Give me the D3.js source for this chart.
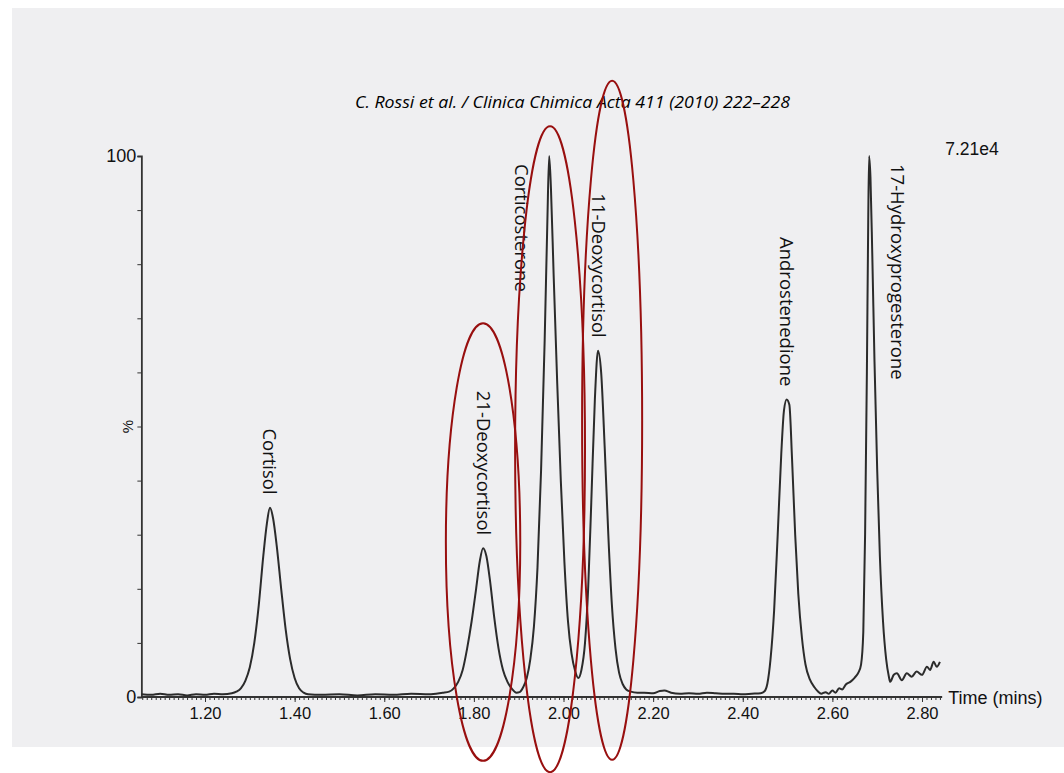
<!DOCTYPE html>
<meta charset='utf-8'>
<html>
  <style>
    body { margin: 0; background: #fff; }
    .tick text, .lbl { font-family: "Liberation Sans", Arial, sans-serif; fill: #111; }
    .peak { font-family: "Open Sans", "Noto Sans", sans-serif; font-size: 18.5px; fill: #111; }
    .title { font-family: "Open Sans", sans-serif; font-style: italic; font-size: 16px; fill: #000; }
    .axis path, .axis line { stroke: #333; }
  </style>
  <head>
    <script src="https://cdn.jsdelivr.net/npm/d3@7"></script>
  </head>
  <body>
    <div id="chart"></div>
    <script type="text/javascript">
      // trace: retention time (min) and relative intensity (%)
      var traceTime = [1.058,1.08,1.10,1.12,1.14,1.16,1.18,1.20,1.22,1.24,1.26,1.27,1.28,1.29,1.30,1.31,1.32,1.33,1.338,1.345,1.352,1.36,1.37,1.38,1.39,1.40,1.41,1.42,1.43,1.46,1.50,1.54,1.58,1.62,1.66,1.70,1.73,1.745,1.755,1.765,1.775,1.785,1.795,1.805,1.813,1.8205,1.828,1.836,1.845,1.855,1.865,1.875,1.885,1.895,1.902,1.91,1.918,1.926,1.934,1.942,1.95,1.958,1.964,1.968,1.972,1.978,1.986,1.994,2.002,2.01,2.018,2.026,2.033,2.04,2.048,2.055,2.062,2.07,2.077,2.084,2.092,2.10,2.108,2.116,2.124,2.132,2.14,2.15,2.165,2.18,2.20,2.215,2.225,2.24,2.26,2.28,2.30,2.32,2.34,2.36,2.38,2.40,2.42,2.44,2.448,2.455,2.462,2.47,2.478,2.486,2.492,2.498,2.504,2.51,2.517,2.524,2.532,2.54,2.55,2.56,2.568,2.575,2.585,2.592,2.60,2.607,2.615,2.622,2.63,2.64,2.65,2.658,2.664,2.669,2.673,2.677,2.68,2.682,2.685,2.689,2.694,2.70,2.706,2.713,2.72,2.726,2.729,2.737,2.744,2.755,2.766,2.777,2.788,2.80,2.811,2.818,2.826,2.833,2.84];
      var traceIntensity = [0.5,0.4,0.6,0.4,0.5,0.3,0.5,0.4,0.6,0.5,0.7,1.0,1.6,3.0,5.5,10,17,26,32,35,33,28,20,12.5,7,3.5,1.6,0.8,0.5,0.4,0.5,0.3,0.5,0.4,0.6,0.5,0.8,1.0,1.6,2.8,5,9,14,20,25,27.5,26,21.5,15,9,5,2.8,1.5,0.8,0.9,1.8,3.5,7,13,24,42,66,88,100,94,78,58,40,25,14,8,4.8,3.5,5,10,20,36,55,64,60,46,30,17,9,4.5,2.4,1.4,1.0,0.8,0.8,0.7,1.1,1.2,0.8,0.6,0.7,0.6,0.8,0.7,0.6,0.6,0.5,0.6,0.7,1.0,2.5,7,16,30,45,53,55,54,44,30,19,11,6,3.2,1.8,1.0,0.6,0.9,0.6,1.2,0.8,1.6,1.4,2.3,2.8,3.6,4.5,6,12,30,60,88,100,96,82,62,42,26,14,7,3.8,2.8,4.1,4.4,3.1,4.4,3.75,4.7,4.1,5.6,5.0,6.5,5.6,6.5];

      var peakNames = ["Cortisol","21-Deoxycortisol","Corticosterone","11-Deoxycortisol","Androstenedione","17-Hydroxyprogesterone"];
      var peakTimes = [1.345, 1.8205, 1.968, 2.077, 2.497, 2.682];
      var peakHeights = [35, 27.5, 100, 64, 55, 100];

      var xTickValues = [1.20,1.40,1.60,1.80,2.00,2.20,2.40,2.60,2.80];
      var yTickValues = [0,10,20,30,40,50,60,70,80,90,100];

      // red circles drawn over the scan (time centre, half width in min, top/bottom in %)
      var ringTimes = [1.8205, 1.970, 2.1085];
      var ringHalfWidths = [0.083, 0.078, 0.067];
      var ringTops = [69.1, 105.5, 113.9];
      var ringBottoms = [-11.8, -13.9, -11.6];

      var titleText = "C. Rossi et al. / Clinica Chimica Acta 411 (2010) 222\u2013228",
        scaleText = "7.21e4",
        xTitle = "Time (mins)",
        yTitle = "%";

      var width = 1064, height = 773;

      var x = d3.scaleLinear().domain([1.20, 2.80]).range([205, 922]),
        y = d3.scaleLinear().domain([0, 100]).range([697, 156]);

      var svg = d3.select("#chart").append("svg")
        .attr("width", width)
        .attr("height", height);

      // scanned page area
      svg.append("rect")
        .attr("x", 12).attr("y", 8)
        .attr("width", width - 12).attr("height", 739)
        .attr("fill", "#efeff1");

      svg.append("text")
        .attr("class", "title")
        .attr("x", 355).attr("y", 108)
        .attr("textLength", 435)
        .attr("lengthAdjust", "spacingAndGlyphs")
        .text(titleText);

      // x axis: minor ticks every 0.01 and labelled ticks
      var minor = d3.range(106, 285).map(function(d){ return d / 100; });
      svg.append("g")
        .attr("class", "axis")
        .attr("transform", "translate(0," + y(0) + ")")
        .call(d3.axisBottom(x).tickValues(minor).tickSize(3).tickFormat(""))
        .select(".domain").remove();

      var xAxis = svg.append("g")
        .attr("class", "axis")
        .attr("transform", "translate(0," + y(0) + ")")
        .call(d3.axisBottom(x).tickValues(xTickValues).tickSize(5).tickPadding(5)
          .tickFormat(d3.format(".2f")));
      xAxis.select(".domain").remove();
      xAxis.selectAll("text").style("font-size", "16.5px");

      svg.append("line")
        .attr("x1", x(1.058)).attr("x2", x(2.845))
        .attr("y1", y(0)).attr("y2", y(0))
        .attr("stroke", "#333").attr("stroke-width", 1.8);

      svg.append("text")
        .attr("class", "lbl")
        .attr("x", x(2.845) + 6).attr("y", y(0) + 7)
        .style("font-size", "18px")
        .text(xTitle);

      // y axis
      var yAxis = svg.append("g")
        .attr("class", "axis")
        .attr("transform", "translate(" + x(1.058) + ",0)")
        .call(d3.axisLeft(y).tickValues(yTickValues).tickSize(4).tickPadding(1)
          .tickFormat(function(d){ return (d === 0 || d === 100) ? d : ""; }));
      yAxis.select(".domain").attr("stroke-width", 1.8);
      yAxis.selectAll("text").style("font-size", "18px");

      svg.append("text")
        .attr("class", "lbl")
        .attr("transform", "translate(" + (x(1.058) - 14) + "," + y(50) + ") rotate(-90)")
        .attr("text-anchor", "middle")
        .attr("dominant-baseline", "central")
        .style("font-size", "15px")
        .text(yTitle);

      svg.append("text")
        .attr("class", "lbl")
        .attr("x", x(2.845) + 3).attr("y", y(100) - 1)
        .style("font-size", "17.5px")
        .text(scaleText);

      // chromatogram trace
      var trace = traceTime.map(function(t, i){ return [t, traceIntensity[i]]; });
      var line = d3.line()
        .x(function(d){ return x(d[0]); })
        .y(function(d){ return y(d[1]); })
        .curve(d3.curveMonotoneX);

      svg.append("path")
        .datum(trace)
        .attr("fill", "none")
        .attr("stroke", "#2b2b2b")
        .attr("stroke-width", 2)
        .attr("stroke-linejoin", "round")
        .attr("d", line);

      // peak names, rotated; two of them sit beside their peak instead of above it
      var beside = {"Corticosterone": -27, "17-Hydroxyprogesterone": 29};
      peakNames.forEach(function(name, i){
        var px = x(peakTimes[i]), py = y(peakHeights[i]);
        var t = svg.append("text").attr("class", "peak")
          .attr("dominant-baseline", "central")
          .text(name);
        if (beside[name] !== undefined) {
          t.attr("text-anchor", "start")
            .attr("transform", "translate(" + (px + beside[name]) + "," + (py + 8) + ") rotate(90)");
        } else {
          t.attr("text-anchor", "end")
            .attr("transform", "translate(" + (px + 1) + "," + (py - 13) + ") rotate(90)");
        }
      });

      // annotation ellipses
      ringTimes.forEach(function(t, i){
        var cx = x(t), rx = x(t + ringHalfWidths[i]) - cx;
        var top = y(ringTops[i]), bot = y(ringBottoms[i]);
        svg.append("ellipse")
          .attr("cx", cx).attr("cy", (top + bot) / 2)
          .attr("rx", rx).attr("ry", (bot - top) / 2)
          .attr("fill", "none")
          .attr("stroke", "#980f0f")
          .attr("stroke-width", 2);
      });
    </script>
  </body>
</html>
